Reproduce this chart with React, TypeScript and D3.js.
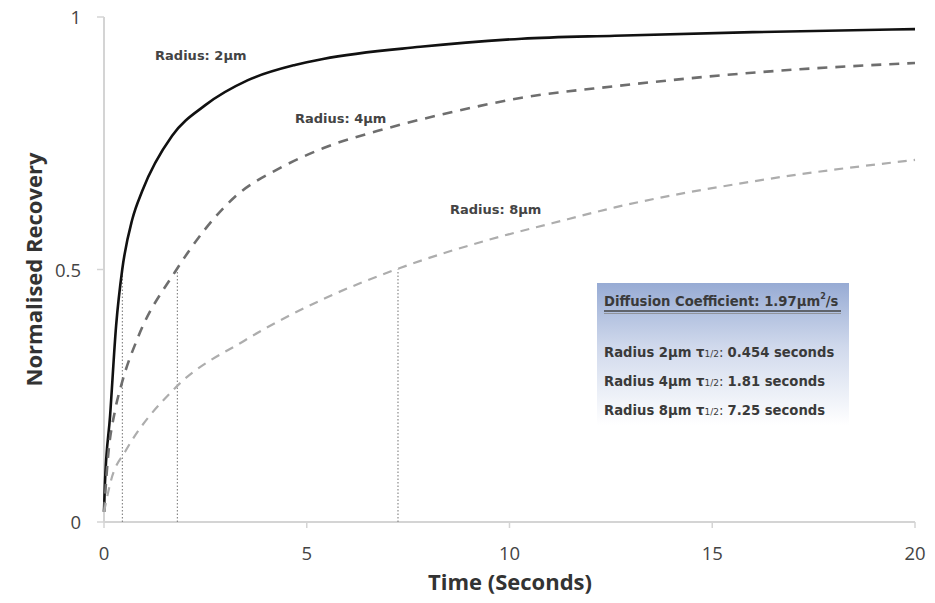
import React from "react";
import * as d3 from "d3";

// ---- data ----
const t2 = [0, 0.02, 0.15, 0.3, 0.45, 0.7, 0.94, 1.68, 2.49, 3.55, 4.71, 5.4, 7.8, 10.3, 12.6, 16, 20];
const v2 = [0.02, 0.07, 0.21, 0.39, 0.5, 0.6, 0.655, 0.765, 0.825, 0.875, 0.905, 0.917, 0.941, 0.957, 0.963, 0.97, 0.976];

const t4 = [0, 0.1, 0.27, 0.44, 0.84, 1.75, 3.23, 4.39, 5.4, 7, 8.6, 10.3, 12.6, 16.2, 20];
const v4 = [0.02, 0.13, 0.22, 0.275, 0.366, 0.495, 0.644, 0.703, 0.74, 0.78, 0.812, 0.84, 0.863, 0.891, 0.909];

const t8 = [0, 0.2, 0.52, 1.75, 3.48, 5.45, 7.3, 9.45, 11.07, 12.6, 16.2, 20];
const v8 = [0.02, 0.09, 0.139, 0.265, 0.36, 0.443, 0.503, 0.558, 0.592, 0.623, 0.677, 0.717];

const halfTimes = [0.454, 1.81, 7.25];
const radii = ["2µm", "4µm", "8µm"];
const halfTimeLabels = ["0.454", "1.81", "7.25"];
const xTicks = [0, 5, 10, 15, 20];
const yTicks = [0, 0.5, 1];
const yTickLabels = ["0", "0.5", "1"];
const diffusionCoefficient = "1.97";

const W = 935;
const H = 603;

export default function App() {
  const x = d3.scaleLinear().domain([0, 20]).range([104, 915]);
  const y = d3.scaleLinear().domain([0, 1]).range([522, 17]);

  const line = d3
    .line<[number, number]>()
    .x((d) => x(d[0]))
    .y((d) => y(d[1]))
    .curve(d3.curveMonotoneX);

  const series = [
    { pts: t2.map((t, i) => [t, v2[i]] as [number, number]), stroke: "#111", width: 2.6, dash: undefined },
    { pts: t4.map((t, i) => [t, v4[i]] as [number, number]), stroke: "#6e6e6e", width: 2.6, dash: "10 8" },
    { pts: t8.map((t, i) => [t, v8[i]] as [number, number]), stroke: "#adadad", width: 2.2, dash: "9 7" },
  ];

  const labelPos = [
    { tx: 1.26, ty: 0.915 },
    { tx: 4.71, ty: 0.79 },
    { tx: 8.53, ty: 0.61 },
  ];

  const axisFont = "'Open Sans', 'Liberation Sans', sans-serif";
  const annFont = "'DejaVu Sans', Verdana, sans-serif";

  return (
    <svg
      width={W}
      height={H}
      style={{ position: "absolute", left: 0, top: 0, background: "#fff" }}
    >
      <defs>
        <linearGradient id="boxGrad" x1="0" y1="0" x2="0" y2="1">
          <stop offset="0" stopColor="#97abd4" />
          <stop offset="0.45" stopColor="#d0d9ec" />
          <stop offset="1" stopColor="#ffffff" />
        </linearGradient>
      </defs>
      <rect x={0} y={0} width={W} height={H} fill="#fff" />

      {/* info box */}
      <rect x={597} y={283} width={252} height={142} fill="url(#boxGrad)" />
      <g fontFamily={annFont} fill="#333" fontSize={13.2} fontWeight="bold">
        <text x={604} y={306} fill="#3a3a3a">
          Diffusion Coefficient: {diffusionCoefficient}µm
          <tspan fontSize={8} dy={-7}>2</tspan>
          <tspan dy={7}>/s</tspan>
        </text>
        <line x1={604} x2={841} y1={311} y2={311} stroke="#444" strokeWidth={1.3} />
        <line x1={604} x2={841} y1={313.5} y2={313.5} stroke="#888" strokeWidth={0.8} />
        {radii.map((r, i) => (
          <text key={r} x={604} y={357 + i * 29} fill="#3a3a3a">
            Radius {r} τ
            <tspan fontSize={9} fontWeight="normal">1/2</tspan>
            <tspan fontWeight="normal">: </tspan>
            {halfTimeLabels[i]} seconds
          </text>
        ))}
      </g>

      {/* axes */}
      <line x1={x(0)} x2={x(20)} y1={y(0)} y2={y(0)} stroke="#d4d4d4" strokeWidth={2} />
      <line x1={x(0)} x2={x(0)} y1={y(0)} y2={y(1)} stroke="#d4d4d4" strokeWidth={2} />
      {xTicks.map((t) => (
        <g key={t}>
          <line x1={x(t)} x2={x(t)} y1={y(0)} y2={y(0) + 6} stroke="#d4d4d4" strokeWidth={1.5} />
          <text
            x={x(t)}
            y={560}
            textAnchor="middle"
            fontFamily={axisFont}
            fontSize={18.5}
            fill="#444"
          >
            {t}
          </text>
        </g>
      ))}
      {yTicks.map((v, i) => (
        <g key={v}>
          <line x1={x(0) - 7} x2={x(0)} y1={y(v)} y2={y(v)} stroke="#d4d4d4" strokeWidth={1.5} />
          <text
            x={81}
            y={y(v) + 7}
            textAnchor="end"
            fontFamily={axisFont}
            fontSize={18.5}
            fill="#444"
          >
            {yTickLabels[i]}
          </text>
        </g>
      ))}

      {/* half-time markers */}
      {halfTimes.map((t) => (
        <line
          key={t}
          x1={x(t)}
          x2={x(t)}
          y1={y(0)}
          y2={y(0.5)}
          stroke="#8a8a8a"
          strokeWidth={1.2}
          strokeDasharray="1.5 2"
        />
      ))}

      {/* curves */}
      {series.map((s, i) => (
        <path
          key={i}
          d={line(s.pts) || ""}
          fill="none"
          stroke={s.stroke}
          strokeWidth={s.width}
          strokeDasharray={s.dash}
        />
      ))}

      {/* curve labels */}
      {radii.map((r, i) => (
        <text
          key={r}
          x={x(labelPos[i].tx)}
          y={y(labelPos[i].ty)}
          fontFamily={annFont}
          fontSize={13}
          fontWeight="bold"
          fill="#444"
        >
          Radius: {r}
        </text>
      ))}

      {/* axis titles */}
      <text
        x={510}
        y={590}
        textAnchor="middle"
        fontFamily={axisFont}
        fontWeight="bold"
        fontSize={22}
        fill="#333"
      >
        Time (Seconds)
      </text>
      <text
        transform={`translate(42,${y(0.5)}) rotate(-90)`}
        textAnchor="middle"
        fontFamily={axisFont}
        fontWeight="bold"
        fontSize={22}
        fill="#333"
      >
        Normalised Recovery
      </text>
    </svg>
  );
}
